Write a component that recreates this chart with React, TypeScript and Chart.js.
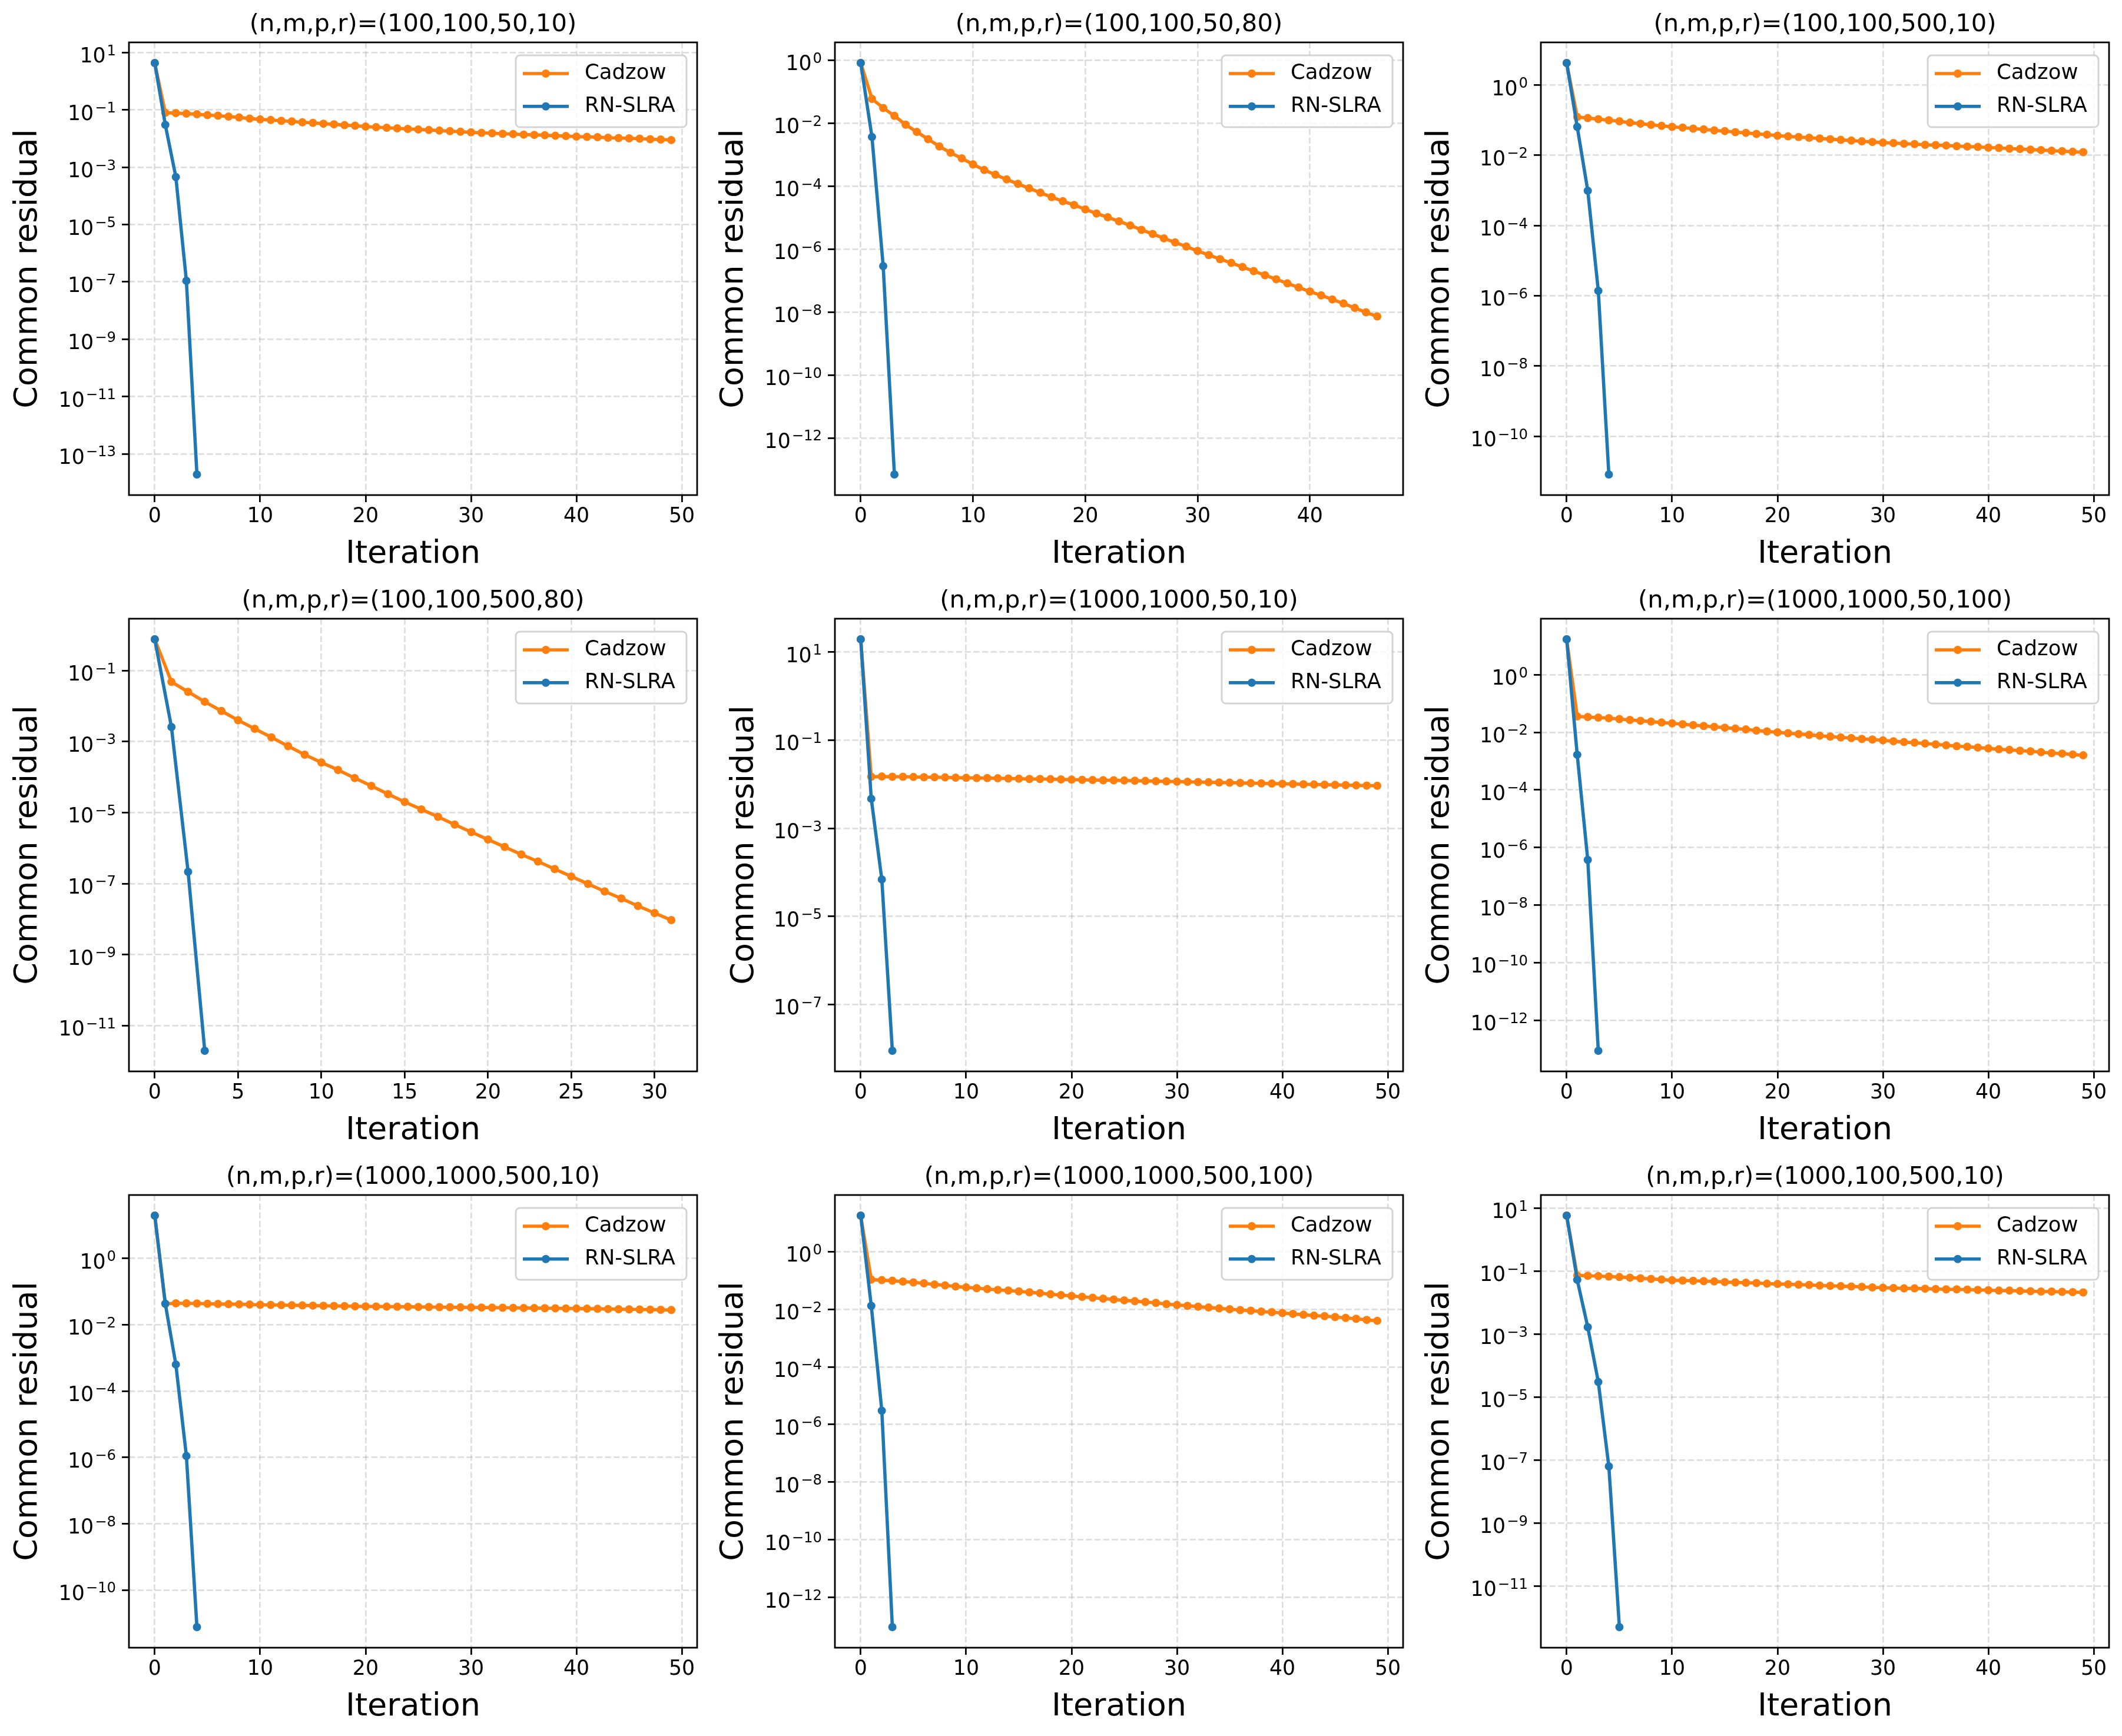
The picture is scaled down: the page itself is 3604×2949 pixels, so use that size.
import React, { useEffect, useRef } from "react";
import { Chart, registerables } from "chart.js";

Chart.register(...registerables);

const FONT = "'DejaVu Sans', 'Noto Sans', sans-serif";
const ORANGE = "#ff7f0e";
const BLUE = "#1f77b4";
const GRID = "rgba(176,176,176,0.42)";

// ---------- DATA (residuals stored as log10 values) ----------
const seriesNames = ["Cadzow", "RN-SLRA"];

const panelTitles = [
  "(n,m,p,r)=(100,100,50,10)",
  "(n,m,p,r)=(100,100,50,80)",
  "(n,m,p,r)=(100,100,500,10)",
  "(n,m,p,r)=(100,100,500,80)",
  "(n,m,p,r)=(1000,1000,50,10)",
  "(n,m,p,r)=(1000,1000,50,100)",
  "(n,m,p,r)=(1000,1000,500,10)",
  "(n,m,p,r)=(1000,1000,500,100)",
  "(n,m,p,r)=(1000,100,500,10)",
];

const cadzowLog10_A = [0.64, -1.10, -1.11, -1.13, -1.15, -1.18, -1.20, -1.23, -1.26, -1.30, -1.33, -1.35, -1.38, -1.40, -1.43, -1.45, -1.48, -1.50, -1.53, -1.55, -1.58, -1.60, -1.62, -1.64, -1.66, -1.68, -1.70, -1.72, -1.74, -1.76, -1.78, -1.80, -1.81, -1.83, -1.84, -1.86, -1.87, -1.88, -1.90, -1.91, -1.93, -1.94, -1.95, -1.97, -1.98, -1.99, -2.00, -2.02, -2.03, -2.05];
const rnslraLog10_A = [0.64, -1.52, -3.34, -6.96, -13.72];

const cadzowLog10_B = [-0.09, -1.23, -1.52, -1.77, -2.05, -2.28, -2.51, -2.74, -2.94, -3.12, -3.31, -3.49, -3.64, -3.79, -3.93, -4.07, -4.21, -4.35, -4.48, -4.60, -4.74, -4.87, -4.99, -5.12, -5.25, -5.39, -5.52, -5.66, -5.79, -5.92, -6.06, -6.19, -6.32, -6.44, -6.57, -6.70, -6.83, -6.96, -7.09, -7.22, -7.35, -7.47, -7.60, -7.73, -7.87, -8.01, -8.14];
const rnslraLog10_B = [-0.09, -2.44, -6.54, -13.16];

const cadzowLog10_C = [0.63, -0.91, -0.94, -0.97, -1.00, -1.03, -1.07, -1.10, -1.13, -1.16, -1.19, -1.21, -1.24, -1.26, -1.29, -1.31, -1.34, -1.36, -1.39, -1.41, -1.44, -1.46, -1.48, -1.50, -1.52, -1.54, -1.56, -1.58, -1.60, -1.62, -1.64, -1.65, -1.67, -1.68, -1.70, -1.71, -1.72, -1.74, -1.75, -1.76, -1.78, -1.79, -1.81, -1.82, -1.84, -1.85, -1.87, -1.88, -1.90, -1.91];
const rnslraLog10_C = [0.63, -1.19, -3.01, -5.86, -11.09];

const cadzowLog10_D = [-0.12, -1.32, -1.60, -1.88, -2.14, -2.40, -2.64, -2.88, -3.13, -3.37, -3.59, -3.80, -4.03, -4.25, -4.48, -4.70, -4.91, -5.12, -5.34, -5.55, -5.76, -5.97, -6.18, -6.38, -6.59, -6.80, -7.01, -7.22, -7.42, -7.63, -7.83, -8.03];
const rnslraLog10_D = [-0.12, -2.59, -6.67, -11.71];

const cadzowLog10_E = [1.29, -1.83, -1.825, -1.83, -1.83, -1.835, -1.84, -1.84, -1.845, -1.85, -1.855, -1.86, -1.86, -1.865, -1.87, -1.875, -1.88, -1.88, -1.885, -1.89, -1.895, -1.90, -1.905, -1.91, -1.91, -1.915, -1.92, -1.925, -1.93, -1.935, -1.94, -1.945, -1.95, -1.955, -1.96, -1.965, -1.97, -1.975, -1.98, -1.985, -1.99, -1.995, -2.00, -2.005, -2.01, -2.015, -2.02, -2.025, -2.03, -2.035];
const rnslraLog10_E = [1.29, -2.33, -4.16, -8.05];

const cadzowLog10_F = [1.23, -1.45, -1.47, -1.49, -1.51, -1.54, -1.57, -1.60, -1.63, -1.66, -1.69, -1.72, -1.75, -1.78, -1.81, -1.84, -1.87, -1.90, -1.94, -1.97, -2.00, -2.03, -2.06, -2.09, -2.12, -2.15, -2.18, -2.20, -2.23, -2.25, -2.28, -2.31, -2.34, -2.36, -2.39, -2.42, -2.45, -2.48, -2.50, -2.53, -2.56, -2.59, -2.61, -2.64, -2.66, -2.69, -2.72, -2.74, -2.77, -2.80];
const rnslraLog10_F = [1.23, -2.78, -6.43, -13.06];

const cadzowLog10_G = [1.29, -1.37, -1.355, -1.355, -1.36, -1.37, -1.375, -1.38, -1.385, -1.39, -1.40, -1.405, -1.41, -1.415, -1.42, -1.425, -1.43, -1.435, -1.44, -1.445, -1.45, -1.452, -1.455, -1.458, -1.46, -1.465, -1.468, -1.47, -1.473, -1.477, -1.48, -1.483, -1.486, -1.49, -1.493, -1.496, -1.50, -1.503, -1.506, -1.51, -1.513, -1.517, -1.522, -1.527, -1.532, -1.537, -1.542, -1.547, -1.552, -1.557];
const rnslraLog10_G = [1.29, -1.37, -3.20, -5.96, -11.12];

const cadzowLog10_H = [1.25, -0.97, -0.99, -1.01, -1.04, -1.07, -1.10, -1.14, -1.17, -1.21, -1.24, -1.27, -1.30, -1.33, -1.35, -1.38, -1.41, -1.44, -1.48, -1.51, -1.54, -1.57, -1.60, -1.63, -1.66, -1.69, -1.72, -1.75, -1.78, -1.82, -1.85, -1.88, -1.91, -1.94, -1.97, -2.00, -2.03, -2.05, -2.08, -2.10, -2.13, -2.16, -2.19, -2.22, -2.24, -2.27, -2.30, -2.33, -2.37, -2.40];
const rnslraLog10_H = [1.25, -1.88, -5.52, -13.03];

const cadzowLog10_I = [0.76, -1.14, -1.15, -1.16, -1.175, -1.19, -1.21, -1.23, -1.25, -1.27, -1.29, -1.30, -1.31, -1.32, -1.33, -1.35, -1.36, -1.37, -1.38, -1.40, -1.41, -1.42, -1.43, -1.44, -1.46, -1.47, -1.48, -1.49, -1.50, -1.52, -1.53, -1.54, -1.55, -1.55, -1.56, -1.57, -1.58, -1.58, -1.59, -1.60, -1.61, -1.62, -1.62, -1.63, -1.64, -1.65, -1.65, -1.66, -1.67, -1.68];
const rnslraLog10_I = [0.76, -1.28, -2.78, -4.52, -7.20, -12.30];

// y tick exponents (10^k) per panel
const yTickExp_A = [1, -1, -3, -5, -7, -9, -11, -13];
const yTickExp_B = [0, -2, -4, -6, -8, -10, -12];
const yTickExp_C = [0, -2, -4, -6, -8, -10];
const yTickExp_D = [-1, -3, -5, -7, -9, -11];
const yTickExp_E = [1, -1, -3, -5, -7];
const yTickExp_F = [0, -2, -4, -6, -8, -10, -12];
const yTickExp_G = [0, -2, -4, -6, -8, -10];
const yTickExp_H = [0, -2, -4, -6, -8, -10, -12];
const yTickExp_I = [1, -1, -3, -5, -7, -9, -11];

// x tick labels
const xTicks50 = [0, 10, 20, 30, 40, 50];
const xTicks40 = [0, 10, 20, 30, 40];
const xTicks30 = [0, 5, 10, 15, 20, 25, 30];

const xAxisTitle = "Iteration";
const yAxisTitle = "Common residual";

// ---------- LAYOUT ----------
const FIG_W = 3604;
const FIG_H = 2949;
const AX_LEFT = [219, 1418, 2617];
const AX_TOP = [72, 1051, 2030];
const AX_W = 965;
const AX_H = 769;
const Y_SCALE_W = 219;
const TITLE_H = 72;
const X_SCALE_H = 138;
const TITLE_PAD_TOP = 16.8;

const panels = [
  { title: panelTitles[0], cad: cadzowLog10_A, rn: rnslraLog10_A, yExp: yTickExp_A, xTicks: xTicks50, yPad: 16 },
  { title: panelTitles[1], cad: cadzowLog10_B, rn: rnslraLog10_B, yExp: yTickExp_B, xTicks: xTicks40, yPad: 16 },
  { title: panelTitles[2], cad: cadzowLog10_C, rn: rnslraLog10_C, yExp: yTickExp_C, xTicks: xTicks50, yPad: 16 },
  { title: panelTitles[3], cad: cadzowLog10_D, rn: rnslraLog10_D, yExp: yTickExp_D, xTicks: xTicks30, yPad: 16 },
  { title: panelTitles[4], cad: cadzowLog10_E, rn: rnslraLog10_E, yExp: yTickExp_E, xTicks: xTicks50, yPad: 34 },
  { title: panelTitles[5], cad: cadzowLog10_F, rn: rnslraLog10_F, yExp: yTickExp_F, xTicks: xTicks50, yPad: 16 },
  { title: panelTitles[6], cad: cadzowLog10_G, rn: rnslraLog10_G, yExp: yTickExp_G, xTicks: xTicks50, yPad: 16 },
  { title: panelTitles[7], cad: cadzowLog10_H, rn: rnslraLog10_H, yExp: yTickExp_H, xTicks: xTicks50, yPad: 16 },
  { title: panelTitles[8], cad: cadzowLog10_I, rn: rnslraLog10_I, yExp: yTickExp_I, xTicks: xTicks50, yPad: 16 },
];

// ---------- PLUGINS ----------
const framePlugin = {
  id: "mplFrame",
  afterDatasetsDraw(chart: any) {
    const { ctx, chartArea: a } = chart;
    ctx.save();
    ctx.strokeStyle = "#000";
    ctx.lineWidth = 2.8;
    ctx.strokeRect(a.left, a.top, a.right - a.left, a.bottom - a.top);
    ctx.restore();
  },
};

const yLabelPlugin = {
  id: "mplYLabels",
  afterDraw(chart: any) {
    const ys = chart.scales.y;
    const ctx = chart.ctx;
    const xr = chart.chartArea.left - 22;
    ctx.save();
    ctx.fillStyle = "#000";
    ctx.textBaseline = "alphabetic";
    ctx.textAlign = "right";
    for (const t of ys.ticks) {
      const e = Math.round(Math.log10(t.value));
      const py = ys.getPixelForValue(t.value);
      const base = py + 17;
      const expStr = e < 0 ? "\u2212" + Math.abs(e) : String(e);
      ctx.font = `24.3px ${FONT}`;
      const ew = ctx.measureText(expStr).width;
      ctx.fillText(expStr, xr, base - 12.5);
      ctx.font = `34.7px ${FONT}`;
      ctx.fillText("10", xr - ew - 2, base);
    }
    ctx.restore();
  },
};

function roundRectPath(ctx: any, x: number, y: number, w: number, h: number, r: number) {
  ctx.beginPath();
  ctx.moveTo(x + r, y);
  ctx.lineTo(x + w - r, y);
  ctx.arcTo(x + w, y, x + w, y + r, r);
  ctx.lineTo(x + w, y + h - r);
  ctx.arcTo(x + w, y + h, x + w - r, y + h, r);
  ctx.lineTo(x + r, y + h);
  ctx.arcTo(x, y + h, x, y + h - r, r);
  ctx.lineTo(x, y + r);
  ctx.arcTo(x, y, x + r, y, r);
  ctx.closePath();
}

const legendPlugin = {
  id: "mplLegend",
  afterDraw(chart: any) {
    const { ctx, chartArea: a } = chart;
    const w = 290;
    const h = 122;
    const bx = a.right - 18 - w;
    const by = a.top + 22;
    ctx.save();
    roundRectPath(ctx, bx, by, w, h, 7);
    ctx.fillStyle = "rgba(255,255,255,0.8)";
    ctx.fill();
    ctx.lineWidth = 3;
    ctx.strokeStyle = "rgba(204,204,204,0.85)";
    ctx.stroke();
    chart.data.datasets.forEach((ds: any, i: number) => {
      const cy = by + 31 + i * 55.8;
      ctx.strokeStyle = ds.borderColor;
      ctx.lineWidth = 5.5;
      ctx.lineCap = "butt";
      ctx.beginPath();
      ctx.moveTo(bx + 12, cy);
      ctx.lineTo(bx + 90, cy);
      ctx.stroke();
      ctx.fillStyle = ds.borderColor;
      ctx.beginPath();
      ctx.arc(bx + 51, cy, 7, 0, Math.PI * 2);
      ctx.fill();
      ctx.fillStyle = "#000";
      ctx.font = `35.5px ${FONT}`;
      ctx.textAlign = "left";
      ctx.textBaseline = "middle";
      ctx.fillText(ds.label, bx + 117, cy);
    });
    ctx.restore();
  },
};

// ---------- PANEL ----------
function Panel(props: any) {
  const { cfg, left, top, width, height, padRight, padBottom } = props;
  const ref = useRef<HTMLCanvasElement>(null);

  useEffect(() => {
    const canvas = ref.current as HTMLCanvasElement;
    const allLog = [...cfg.cad, ...cfg.rn];
    const lmax = Math.max(...allLog);
    const lmin = Math.min(...allLog);
    const span = lmax - lmin;
    const yMin = Math.pow(10, lmin - 0.05 * span);
    const yMax = Math.pow(10, lmax + 0.05 * span);
    const nMax = Math.max(cfg.cad.length, cfg.rn.length) - 1;
    const xMin = -0.05 * nMax;
    const xMax = 1.05 * nMax;

    const gridOpts = {
      display: true,
      color: GRID,
      lineWidth: 2.8,
      drawTicks: true,
      tickLength: 12,
      tickWidth: 2.8,
      tickColor: "#000",
      borderDash: [10.3, 4.4],
    };
    const borderOpts = { display: false, dash: [10.3, 4.4], width: 0 };

    const mkDs = (label: string, vals: number[], color: string, order: number) => ({
      label,
      data: vals.map((e: number, i: number) => ({ x: i, y: Math.pow(10, e) })),
      borderColor: color,
      backgroundColor: color,
      pointBackgroundColor: color,
      pointBorderColor: color,
      pointRadius: 7,
      pointBorderWidth: 0,
      pointHoverRadius: 7,
      borderWidth: 5.6,
      borderJoinStyle: "round",
      tension: 0,
      fill: false,
      order,
    });

    const chart = new Chart(canvas, {
      type: "line",
      data: {
        datasets: [
          mkDs(seriesNames[0], cfg.cad, ORANGE, 2),
          mkDs(seriesNames[1], cfg.rn, BLUE, 1),
        ] as any,
      },
      options: {
        responsive: false,
        maintainAspectRatio: false,
        animation: false,
        devicePixelRatio: 1,
        events: [],
        layout: { padding: { left: 0, top: 0, right: padRight, bottom: padBottom } },
        plugins: {
          legend: { display: false },
          tooltip: { enabled: false },
          title: {
            display: true,
            text: cfg.title,
            fullSize: false,
            color: "#000",
            font: { family: FONT, size: 41.7, weight: "normal", lineHeight: 1.2 },
            padding: { top: TITLE_PAD_TOP, bottom: TITLE_H - 50.04 - TITLE_PAD_TOP },
          },
        },
        scales: {
          x: {
            type: "linear",
            min: xMin,
            max: xMax,
            afterFit: (s: any) => {
              s.height = X_SCALE_H;
            },
            afterBuildTicks: (s: any) => {
              s.ticks = cfg.xTicks.map((v: number) => ({ value: v }));
            },
            ticks: {
              color: "#000",
              font: { family: FONT, size: 34.7 },
              padding: 4,
              autoSkip: false,
              maxRotation: 0,
              minRotation: 0,
              callback: (v: any) => String(v),
            },
            grid: gridOpts,
            border: borderOpts,
            title: {
              display: true,
              text: xAxisTitle,
              color: "#000",
              font: { family: FONT, size: 54, lineHeight: 1.2 },
              padding: { top: 0, bottom: 4.5 },
            },
          },
          y: {
            type: "logarithmic",
            min: yMin,
            max: yMax,
            afterFit: (s: any) => {
              s.width = Y_SCALE_W;
            },
            afterBuildTicks: (s: any) => {
              s.ticks = cfg.yExp.map((e: number) => ({ value: Math.pow(10, e), major: true }));
            },
            ticks: { display: false, autoSkip: false },
            grid: gridOpts,
            border: borderOpts,
            title: {
              display: true,
              text: yAxisTitle,
              color: "#000",
              font: { family: FONT, size: 54, lineHeight: 1.2 },
              padding: { top: cfg.yPad, bottom: 0 },
            },
          },
        },
      } as any,
      plugins: [framePlugin, yLabelPlugin, legendPlugin] as any,
    });
    return () => chart.destroy();
  }, []);

  return (
    <canvas
      ref={ref}
      width={width}
      height={height}
      style={{ position: "absolute", left, top, width, height, display: "block" }}
    />
  );
}

export default function App() {
  useEffect(() => {
    document.body.style.margin = "0";
    document.body.style.background = "#fff";
  }, []);

  const cells: any[] = [];
  for (let r = 0; r < 3; r++) {
    for (let c = 0; c < 3; c++) {
      const left = AX_LEFT[c] - Y_SCALE_W;
      const right = c < 2 ? AX_LEFT[c + 1] - Y_SCALE_W : FIG_W;
      const top = AX_TOP[r] - TITLE_H;
      const bottom = r < 2 ? AX_TOP[r + 1] - TITLE_H : FIG_H;
      const width = right - left;
      const height = bottom - top;
      const padRight = width - Y_SCALE_W - AX_W;
      const padBottom = height - TITLE_H - AX_H - X_SCALE_H;
      cells.push(
        <Panel
          key={`${r}-${c}`}
          cfg={panels[r * 3 + c]}
          left={left}
          top={top}
          width={width}
          height={height}
          padRight={padRight}
          padBottom={padBottom}
        />
      );
    }
  }

  return (
    <div
      style={{
        position: "absolute",
        left: 0,
        top: 0,
        width: FIG_W,
        height: FIG_H,
        background: "#fff",
        overflow: "hidden",
      }}
    >
      {cells}
    </div>
  );
}
